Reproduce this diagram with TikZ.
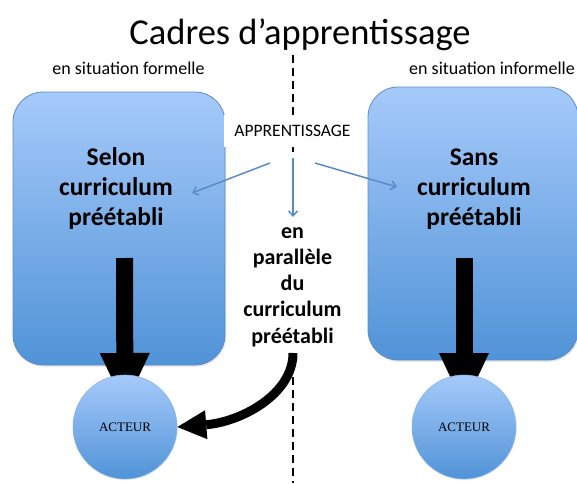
\documentclass[tikz,border=0pt]{standalone}
\usepackage{fontspec}
\setmainfont{Carlito}
\newfontfamily\acteurfont{Liberation Serif}
\usetikzlibrary{arrows.meta,shadows}
\definecolor{boxtop}{RGB}{166,202,250}
\definecolor{boxbot}{RGB}{80,147,215}
\definecolor{boxline}{RGB}{95,140,200}
\definecolor{arrowblue}{RGB}{88,140,200}
\begin{document}
\begin{tikzpicture}[x=1pt,y=1pt,
  cadre/.style={rectangle, rounded corners=30pt, inner sep=0pt,
    top color=boxtop, bottom color=boxbot, draw=boxline, line width=0.8pt,
    drop shadow={shadow xshift=1.2pt, shadow yshift=-1.8pt, opacity=0.18}},
  acteur/.style={circle, minimum size=104pt, inner sep=0pt,
    top color=boxtop, bottom color=boxbot, draw=boxtop!60!boxbot, line width=0.6pt,
    drop shadow={shadow xshift=0.8pt, shadow yshift=-1.2pt, opacity=0.12},
    font=\acteurfont\fontsize{13}{15}\selectfont},
  cadretext/.style={align=center, anchor=north, inner sep=0pt,
    font=\bfseries\fontsize{25.5}{30}\selectfont},
  midtext/.style={align=center, anchor=north, inner sep=0pt,
    font=\bfseries\fontsize{22}{26.25}\selectfont},
  subtitle/.style={anchor=base, inner sep=0pt, font=\fontsize{18}{20}\selectfont},
  dashline/.style={line width=2pt, dash pattern=on 8pt off 5pt},
  bluearrow/.style={draw=arrowblue, line width=1.5pt, -{Straight Barb[length=5pt,width=9pt]}},
  bigarrow/.style={line width=17pt, -{Triangle[length=53pt,width=50pt,line width=0pt]}},
  curvearrow/.style={line width=9pt, -{Triangle[length=29pt,width=29pt,line width=0pt]}}
]
\useasboundingbox (0,0) rectangle (577,483);

% title and subtitles
\node[anchor=base, inner sep=0pt, font=\fontsize{36.5}{40}\selectfont] (title) at (300,438) {Cadres d’apprentissage};
\node[subtitle] (sfl) at (128.5,408) {en situation formelle};
\node[subtitle, anchor=base east] (sinf) at (575,408) {en situation informelle};

% dashed separator
\coordinate (dtop) at (293,428);
\coordinate (dmid) at (293,331);
\coordinate (dlow) at (293,106);
\coordinate (dbot) at (293,0);
\draw[dashline] (dtop) -- (dmid);
\draw[dashline] (dlow) -- (dbot);

% frames
\node[cadre, minimum width=212pt, minimum height=273pt] (lbox) at (119,254.5) {};
\node[cadre, minimum width=210pt, minimum height=273pt] (rbox) at (473,259.5) {};

\node[cadretext] (ltext) at (116,338) {\rule{0pt}{20pt}Selon\\curriculum\\préétabli};
\node[cadretext] (rtext) at (474,338) {\rule{0pt}{20pt}Sans\\curriculum\\préétabli};
\node[midtext] (mid) at (292.5,262) {\rule{0pt}{17pt}en\\parallèle\\du\\curriculum\\préétabli};

% learning label
\node[fill=white, minimum width=137pt, minimum height=32pt, inner sep=0pt,
  font=\fontsize{17.5}{20}\selectfont] (app) at (292.5,352) {APPRENTISSAGE};

% blue arrows
\coordinate (bl1) at (270,320);
\coordinate (bl2) at (192,290);
\coordinate (br1) at (315,320);
\coordinate (br2) at (397,296);
\coordinate (bv1) at (293,325);
\coordinate (bv2) at (293,266);
\draw[bluearrow] (bl1) -- (bl2);
\draw[bluearrow] (br1) -- (br2);
\draw[bluearrow] (bv1) -- (bv2);

% actors and thick arrows
\coordinate (lsh) at (124.5,225);
\coordinate (rsh) at (464,225);
\coordinate (lactpos) at (125,56);
\coordinate (ractpos) at (464,56);
\draw[bigarrow, shorten >=21pt] (lsh) -- (lactpos);
\draw[bigarrow, shorten >=21pt] (rsh) -- (ractpos);
\node[acteur] (lact) at (lactpos) {ACTEUR};
\node[acteur] (ract) at (ractpos) {ACTEUR};

\coordinate (cs) at (293,130);
\draw[curvearrow] (cs) .. controls (293,88) and (240,61) .. (lact.east);
\end{tikzpicture}
\end{document}
